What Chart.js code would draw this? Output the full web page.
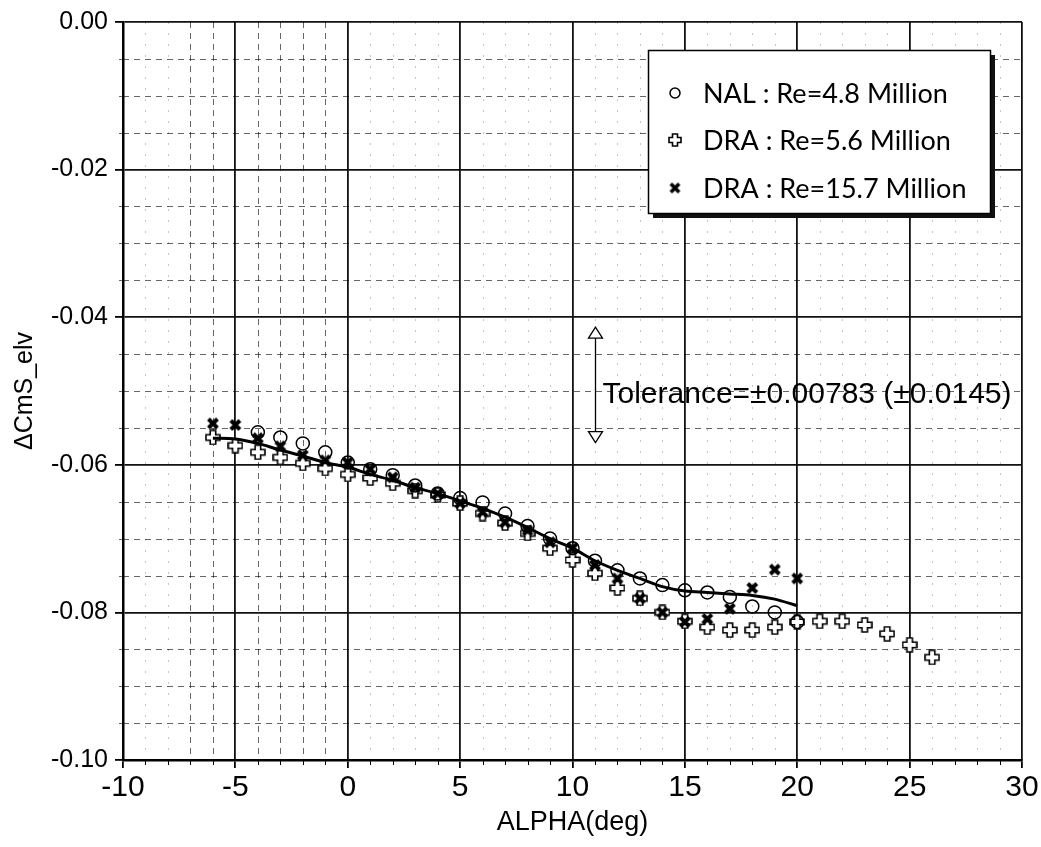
<!DOCTYPE html>
<html>
<head>
<meta charset="utf-8">
<script src="https://cdn.jsdelivr.net/npm/chart.js@4.4.1/dist/chart.umd.min.js"></script>
<style>
  html, body { margin: 0; padding: 0; background: #fff; }
  #wrap { width: 1041px; height: 847px; position: relative; }
</style>
</head>
<body>
<div id="wrap"><canvas id="chart"></canvas></div>
<script>
/* ============================
   DATOS
============================ */
const ALPHA_NAL = [-4, -3, -2, -1, 0, 1, 2, 3, 4, 5, 6, 7, 8, 9, 10, 11, 12, 13, 14, 15, 16, 17, 18, 19, 20];
const CMS_NAL = [-0.0556, -0.0563, -0.0571, -0.0583, -0.0597, -0.0606, -0.0614, -0.0628, -0.0639, -0.0645,
                 -0.0651, -0.0666, -0.0683, -0.0700, -0.0713, -0.0730, -0.0743, -0.0754, -0.0763, -0.0770,
                 -0.0773, -0.0779, -0.0792, -0.0800, -0.0813];

const ALPHA_DRA56 = [-6, -5, -4, -3, -2, -1, 0, 1, 2, 3, 4, 5, 6, 7, 8, 9, 10, 11, 12, 13, 14, 15,
                     16, 17, 18, 19, 20, 21, 22, 23, 24, 25, 26];
const CMS_DRA56 = [-0.0563, -0.0574, -0.0583, -0.0590, -0.0598, -0.0605, -0.0613, -0.0618, -0.0625, -0.0635,
                   -0.0641, -0.0652, -0.0666, -0.0679, -0.0693, -0.0713, -0.0729, -0.0747, -0.0767, -0.0781,
                   -0.0800, -0.0812, -0.0820, -0.0824, -0.0824, -0.0820, -0.0813, -0.0812, -0.0812, -0.0817,
                   -0.0829, -0.0844, -0.0861];

const ALPHA_DRA157 = [-6, -5, -4, -3, -2, -1, 0, 1, 2, 3, 4, 5, 6, 7, 8, 9, 10, 11, 12, 13, 14, 15, 16, 17, 18, 19, 20];
const CMS_DRA157 = [-0.0544, -0.0546, -0.0564, -0.0575, -0.0587, -0.0594, -0.0597, -0.0606, -0.0617, -0.0631,
                    -0.0639, -0.0652, -0.0664, -0.0678, -0.0689, -0.0705, -0.0713, -0.0736, -0.0754, -0.0781,
                    -0.0800, -0.0813, -0.0809, -0.0795, -0.0767, -0.0742, -0.0754];

const ALPHA_FIT = [-6, -5, -4, -3, -2, -1, 0, 1, 2, 3, 4, 5, 6, 7, 8, 9, 10, 11, 12, 13, 14, 15, 16, 17, 18, 19, 20];
const CMS_FIT = [-0.0564, -0.0565, -0.0571, -0.0580, -0.0588, -0.0597, -0.0603, -0.0613, -0.0621, -0.0631,
                 -0.0639, -0.0649, -0.0659, -0.0671, -0.0685, -0.0700, -0.0713, -0.0730, -0.0743, -0.0754,
                 -0.0765, -0.0771, -0.0773, -0.0775, -0.0777, -0.0782, -0.0791];

const LABELS = ["NAL : Re=4.8 Million", "DRA : Re=5.6 Million", "DRA : Re=15.7 Million"];

const X_TICKS = [-10, -5, 0, 5, 10, 15, 20, 25, 30];
const Y_TICKS = [-0.10, -0.08, -0.06, -0.04, -0.02, 0.00];

const TOL_TEXT = "Tolerance=\u00b10.00783 (\u00b10.0145)";
const TOL_ALPHA = 11.0;
const TOL_LOW = -0.0570;
const TOL_HALF = 0.00783;
const TOL_TEXT_Y = -0.0505;

/* ============================
   MARCADORES
============================ */
function makePlus(size, arm) {
    const c = document.createElement("canvas");
    c.width = size; c.height = size;
    const g = c.getContext("2d");
    const m = size / 2, h = arm / 2, e = 1;
    g.beginPath();
    g.moveTo(m - h, e); g.lineTo(m + h, e); g.lineTo(m + h, m - h);
    g.lineTo(size - e, m - h); g.lineTo(size - e, m + h); g.lineTo(m + h, m + h);
    g.lineTo(m + h, size - e); g.lineTo(m - h, size - e); g.lineTo(m - h, m + h);
    g.lineTo(e, m + h); g.lineTo(e, m - h); g.lineTo(m - h, m - h);
    g.closePath();
    g.fillStyle = "#fff"; g.fill();
    g.lineWidth = 1.6; g.strokeStyle = "#000"; g.stroke();
    return c;
}

function makeX(size, w) {
    const c = document.createElement("canvas");
    c.width = size; c.height = size;
    const g = c.getContext("2d");
    const p = w / 2 + 0.5;
    g.strokeStyle = "#000"; g.lineWidth = w; g.lineCap = "butt";
    g.beginPath();
    g.moveTo(p, p); g.lineTo(size - p, size - p);
    g.moveTo(size - p, p); g.lineTo(p, size - p);
    g.stroke();
    return c;
}

const PLUS_MARK = makePlus(16, 5.5);
const X_MARK = makeX(14, 4);
const PLUS_SMALL = makePlus(14, 5);
const X_SMALL = makeX(13, 3.6);

function pts(xs, ys) {
    return xs.map((v, i) => ({ x: v, y: ys[i] }));
}

/* ============================
   PLUGIN: rejilla menor, tolerancia, leyenda
============================ */
const decor = {
    id: "decor",
    beforeDatasetsDraw(chart) {
        const { ctx, chartArea: a, scales: { x, y } } = chart;
        ctx.save();
        ctx.lineWidth = 1;
        // horizontales cada 0.005
        for (let k = 1; k < 20; k++) {
            if (k % 4 === 0) continue;
            const py = Math.round(y.getPixelForValue(-k * 0.005)) + 0.5;
            ctx.strokeStyle = "rgba(0,0,0,0.6)";
            ctx.setLineDash([6, 5]);
            ctx.beginPath(); ctx.moveTo(a.left, py); ctx.lineTo(a.right, py); ctx.stroke();
            ctx.setLineDash([]);
            ctx.beginPath(); ctx.moveTo(a.left - 4, py); ctx.lineTo(a.left, py); ctx.stroke();
        }
        // verticales cada 1 grado
        for (let v = -9; v < 30; v++) {
            if (v % 5 === 0) continue;
            const px = Math.round(x.getPixelForValue(v)) + 0.5;
            const strong = v >= -7 && v <= -1;
            ctx.strokeStyle = strong ? "rgba(0,0,0,0.6)" : "rgba(0,0,0,0.22)";
            ctx.setLineDash(strong ? [6, 5] : [2, 9]);
            ctx.beginPath(); ctx.moveTo(px, a.top); ctx.lineTo(px, a.bottom); ctx.stroke();
            ctx.setLineDash([]);
            ctx.strokeStyle = "#000";
            ctx.beginPath(); ctx.moveTo(px, a.bottom); ctx.lineTo(px, a.bottom + 5); ctx.stroke();
        }
        ctx.restore();
    },
    afterDatasetsDraw(chart) {
        const { ctx, scales: { x, y } } = chart;
        ctx.save();
        // flecha de tolerancia
        const ax = Math.round(x.getPixelForValue(TOL_ALPHA)) + 0.5;
        const yLo = y.getPixelForValue(TOL_LOW);
        const yHi = y.getPixelForValue(TOL_LOW + 2 * TOL_HALF);
        const hw = 7, hh = 11;
        ctx.strokeStyle = "#000"; ctx.fillStyle = "#fff"; ctx.lineWidth = 1.3;
        ctx.beginPath(); ctx.moveTo(ax, yHi + hh); ctx.lineTo(ax, yLo - hh); ctx.stroke();
        ctx.beginPath(); ctx.moveTo(ax, yHi); ctx.lineTo(ax - hw, yHi + hh); ctx.lineTo(ax + hw, yHi + hh); ctx.closePath();
        ctx.fill(); ctx.stroke();
        ctx.beginPath(); ctx.moveTo(ax, yLo); ctx.lineTo(ax - hw, yLo - hh); ctx.lineTo(ax + hw, yLo - hh); ctx.closePath();
        ctx.fill(); ctx.stroke();
        ctx.fillStyle = "#000";
        ctx.font = '30px "Liberation Sans", Arial, sans-serif';
        ctx.textBaseline = "middle";
        ctx.textAlign = "left";
        ctx.fillText(TOL_TEXT, ax + 7, y.getPixelForValue(TOL_TEXT_Y));

        // leyenda con sombra
        const L = 648, T = 50, W = 342, H = 163;
        ctx.fillStyle = "#111";
        ctx.fillRect(L + 5, T + 5, W, H);
        ctx.fillStyle = "#fff";
        ctx.fillRect(L, T, W, H);
        ctx.strokeStyle = "#000"; ctx.lineWidth = 1.5;
        ctx.strokeRect(L + 0.5, T + 0.5, W, H);
        const rows = [93, 140, 188];
        ctx.font = '27px Lato, "Noto Sans", sans-serif';
        ctx.textBaseline = "middle";
        LABELS.forEach((lab, i) => {
            const cy = rows[i];
            const mx = 675;
            if (i === 0) {
                ctx.lineWidth = 1.5; ctx.strokeStyle = "#000";
                ctx.beginPath(); ctx.arc(mx, cy, 5, 0, Math.PI * 2); ctx.stroke();
            } else {
                const img = i === 1 ? PLUS_SMALL : X_SMALL;
                ctx.drawImage(img, mx - img.width / 2, cy - img.height / 2);
            }
            ctx.fillStyle = "#000";
            ctx.fillText(lab, 703, cy + 1);
        });
        ctx.restore();
    }
};

/* ============================
   CHART
============================ */
const ctxC = document.getElementById("chart");
ctxC.width = 1041; ctxC.height = 847;

new Chart(ctxC, {
    type: "scatter",
    data: {
        datasets: [
            {
                type: "line",
                label: "fit",
                data: pts(ALPHA_FIT, CMS_FIT),
                borderColor: "#000",
                borderWidth: 3,
                pointRadius: 0,
                cubicInterpolationMode: "monotone",
                fill: false
            },
            {
                label: LABELS[0],
                data: pts(ALPHA_NAL, CMS_NAL),
                pointStyle: "circle",
                pointRadius: 6.5,
                borderColor: "#000",
                borderWidth: 1.5,
                backgroundColor: "rgba(255,255,255,0)"
            },
            {
                label: LABELS[2],
                data: pts(ALPHA_DRA157, CMS_DRA157),
                pointStyle: X_MARK,
                pointRadius: 7
            },
            {
                label: LABELS[1],
                data: pts(ALPHA_DRA56, CMS_DRA56),
                pointStyle: PLUS_MARK,
                pointRadius: 8
            }
        ]
    },
    options: {
        responsive: false,
        animation: false,
        events: [],
        layout: { padding: { top: 22, right: 19, bottom: 0, left: 0 } },
        plugins: {
            legend: { display: false },
            tooltip: { enabled: false }
        },
        scales: {
            x: {
                type: "linear",
                min: -10, max: 30,
                afterBuildTicks: s => { s.ticks = X_TICKS.map(v => ({ value: v })); },
                afterFit: s => { s.height = 87; },
                grid: { color: "#111", lineWidth: 1.8, tickLength: 8, tickColor: "#000" },
                border: { color: "#000", width: 2.5 },
                ticks: {
                    color: "#000",
                    padding: 2,
                    maxRotation: 0,
                    font: { family: '"Liberation Sans", Arial, sans-serif', size: 30 },
                    callback: v => String(v)
                },
                title: {
                    display: true,
                    text: "ALPHA(deg)",
                    color: "#000",
                    padding: { top: 0, bottom: 8 },
                    font: { family: '"Liberation Sans", Arial, sans-serif', size: 27 }
                }
            },
            y: {
                type: "linear",
                min: -0.10, max: 0,
                afterBuildTicks: s => { s.ticks = Y_TICKS.map(v => ({ value: v })); },
                afterFit: s => { s.width = 123; },
                grid: { color: "#111", lineWidth: 1.8, tickLength: 8, tickColor: "#000" },
                border: { color: "#000", width: 2.5 },
                ticks: {
                    color: "#000",
                    padding: 7,
                    font: { family: '"Liberation Sans", Arial, sans-serif', size: 25 },
                    callback: v => v.toFixed(2)
                },
                title: {
                    display: true,
                    text: "\u0394CmS_elv",
                    color: "#000",
                    padding: { top: 10, bottom: 0 },
                    font: { family: '"Liberation Sans", Arial, sans-serif', size: 25 }
                }
            }
        }
    },
    plugins: [decor]
});
</script>
</body>
</html>
